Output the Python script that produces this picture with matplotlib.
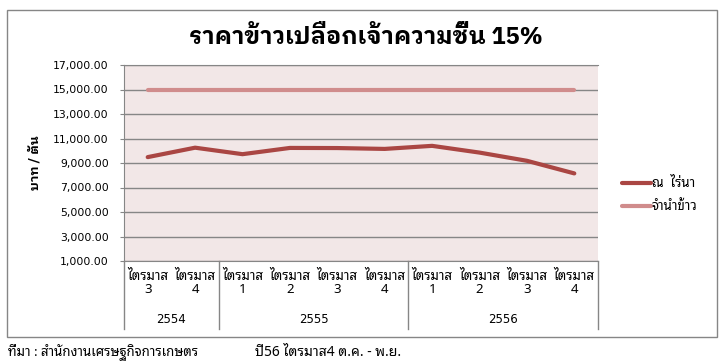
import matplotlib
matplotlib.use("Agg")
import matplotlib.pyplot as plt
from matplotlib.patches import Rectangle
from matplotlib import transforms

plt.rcParams["font.family"] = ["Noto Sans Thai Looped", "DejaVu Sans"]
BOLD_FAMILY = ["IBM Plex Sans Thai Looped", "DejaVu Sans"]

# data
quarters = ["3", "4", "1", "2", "3", "4", "1", "2", "3", "4"]
years = ["2554", "2555", "2556"]
year_counts = [2, 4, 4]
farm_price = [9480, 10250, 9720, 10230, 10220, 10150, 10400, 9850, 9180, 8150]
pledge_price = [15000] * 10
yticks = [1000, 3000, 5000, 7000, 9000, 11000, 13000, 15000, 17000]

W, H = 720, 364
fig = plt.figure(figsize=(W / 100, H / 100), dpi=100)

# outer chart border
fig.patches.append(Rectangle((7 / W, 1 - 337 / H), 710 / W, 327 / H,
                             transform=fig.transFigure, fill=False,
                             edgecolor="#868686", linewidth=1))

ax = fig.add_axes([124 / W, 1 - 261 / H, 474 / W, 196 / H])
ax.set_facecolor("#F2E7E7")
x = list(range(len(quarters)))
ax.plot(x, farm_price, color="#AA4643", linewidth=3, solid_capstyle="round",
        label="ณ  ไร่นา")
ax.plot(x, pledge_price, color="#D08C8C", linewidth=3, solid_capstyle="round",
        label="จำนำข้าว")

ax.set_xlim(-0.5, len(quarters) - 0.5)
ax.set_ylim(1000, 17000)
ax.set_yticks(yticks)
ax.set_yticklabels([f"{v:,.2f}" for v in yticks], fontsize=7.8,
                   family="DejaVu Sans")
ax.tick_params(axis="y", length=3, color="#868686", pad=8)
ax.set_xticks([])
ax.grid(axis="y", color="#868686", linewidth=1)
ax.set_axisbelow(True)
for side in ["top", "left", "bottom"]:
    ax.spines[side].set_color("#868686")
ax.spines["right"].set_visible(False)

# multi-level category axis
tr = transforms.blended_transform_factory(ax.transData, ax.transAxes)
for i, q in enumerate(quarters):
    ax.text(i, -0.045, "ไตรมาส\n" + q, transform=tr, ha="center", va="top",
            fontsize=9.5, linespacing=1.05)
start = 0
bounds = [-0.5]
for yr, n in zip(years, year_counts):
    ax.text(start + (n - 1) / 2, -0.30, yr, transform=tr, ha="center",
            va="center", fontsize=8.5, family="DejaVu Sans")
    start += n
    bounds.append(start - 0.5)
for b in bounds:
    ax.plot([b, b], [0, -0.345], transform=tr, color="#868686",
            linewidth=1, clip_on=False)

ax.set_ylabel("บาท / ตัน", fontsize=9, fontweight="bold", family=BOLD_FAMILY)
ax.yaxis.set_label_coords(-0.175, 0.5)

ax.legend(loc="center left", bbox_to_anchor=(1.025, 0.335), frameon=False,
          fontsize=9.5, handlelength=2.2, handletextpad=0.1, labelspacing=0.75)

fig.text(366 / W, 1 - 37 / H, "ราคาข้าวเปลือกเจ้าความชื้น 15%", ha="center",
         va="center", fontsize=17, fontweight="bold", family=BOLD_FAMILY)
fig.text(8 / W, 1 - 352 / H, "ที่มา : สำนักงานเศรษฐกิจการเกษตร", ha="left",
         va="center", fontsize=9.5)
fig.text(255 / W, 1 - 352 / H, "ปี56 ไตรมาส4 ต.ค. - พ.ย.", ha="left",
         va="center", fontsize=10)

fig.savefig("out.png", dpi=100)
